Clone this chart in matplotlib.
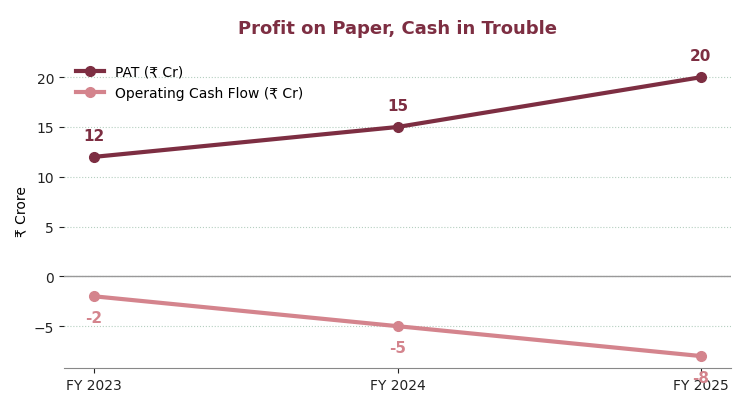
import matplotlib.pyplot as plt

years = ["FY 2023", "FY 2024", "FY 2025"]
pat = [12, 15, 20]
ocf = [-2, -5, -8]

pat_color = "#7D2E42"
ocf_color = "#D4848D"

fig, ax = plt.subplots(figsize=(7.5, 4.1), dpi=100)
x = range(len(years))

ax.plot(x, pat, color=pat_color, lw=3, marker="o", ms=7, label="PAT (₹ Cr)")
ax.plot(x, ocf, color=ocf_color, lw=3, marker="o", ms=7, label="Operating Cash Flow (₹ Cr)")

for i, v in enumerate(pat):
    ax.annotate(str(v), (i, v), xytext=(0, 10), textcoords="offset points",
                ha="center", va="bottom", color=pat_color, fontweight="bold", fontsize=11)
for i, v in enumerate(ocf):
    ax.annotate(str(v), (i, v), xytext=(0, -10), textcoords="offset points",
                ha="center", va="top", color=ocf_color, fontweight="bold", fontsize=11)

ax.axhline(0, color="#999999", lw=1)
ax.set_xticks(list(x))
ax.set_xticklabels(years)
ax.set_xlim(-0.1, 2.1)
ax.set_ylim(-9.2, 22.5)
ax.set_yticks([-5, 0, 5, 10, 15, 20])
ax.set_yticklabels(["−5", "0", "5", "10", "15", "20"])
ax.yaxis.grid(True, linestyle=":", color="#b5cfc0", lw=0.8)
ax.set_axisbelow(True)
for s in ["top", "right", "left"]:
    ax.spines[s].set_visible(False)
ax.spines["bottom"].set_color("#888888")
ax.tick_params(labelsize=10, colors="#222222")
ax.set_ylabel("₹ Crore")
ax.set_title("Profit on Paper, Cash in Trouble", color=pat_color,
             fontweight="bold", fontsize=13, pad=14)
ax.legend(loc="upper left", frameon=False, fontsize=10)

plt.tight_layout()
plt.subplots_adjust(left=0.085, right=0.975, top=0.87, bottom=0.1)
plt.savefig("out.png")
